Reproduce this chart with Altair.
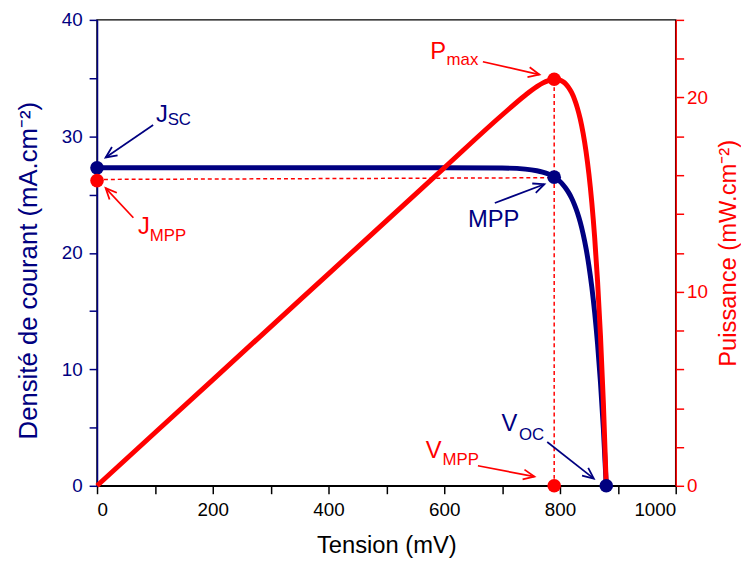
import altair as alt
import pandas as pd

NAVY = "#000080"
RED = "#ff0000"
FONT = "Liberation Sans"

# ---- data ----
tension = [0, 100, 200, 300, 400, 500, 600, 700, 740, 760, 770, 780, 785,
           790, 795, 800, 805, 810, 815, 820, 825, 830, 835, 840, 845, 850,
           855, 860, 865, 870, 875, 880]
densite = [27.3, 27.3, 27.3, 27.3, 27.3, 27.3, 27.3, 27.28, 27.19, 27.05, 26.93, 26.76, 26.64,
           26.50, 26.33, 26.12, 25.86, 25.55, 25.17, 24.71, 24.14, 23.46, 22.63, 21.62, 20.39, 18.89,
           17.07, 14.85, 12.15, 8.87, 4.88, 0.0]
puissance = [0.0, 2.73, 5.46, 8.19, 10.92, 13.65, 16.38, 19.10, 20.12, 20.56, 20.74, 20.87, 20.91,
             20.94, 20.93, 20.90, 20.82, 20.70, 20.51, 20.26, 19.92, 19.47, 18.90, 18.16, 17.23, 16.06,
             14.59, 12.77, 10.51, 7.72, 4.27, 0.0]

# key points
jsc_v, jsc_j = 0, 27.3
mpp_v, mpp_j = 790, 26.5
jmpp_v, jmpp_j = 0, 26.2
pmax_v, pmax_p = 790, 20.94
voc_v = 880

# dashed guides (in current-density units)
guide_v = [0, 790]
guide_v2 = [790, 790]
guide_j = [26.3, 0.0]
guide_j2 = [26.45, 34.86]

# annotation labels (main letter and subscript)
lab_text = ["J", "J", "P", "MPP", "V", "V"]
lab_v = [102, 71, 576, 641, 699, 568]
lab_j = [31.2, 21.65, 36.6, 22.2, 4.7, 2.4]
lab_col = [NAVY, RED, RED, NAVY, NAVY, RED]

sub_text = ["SC", "MPP", "max", "OC", "MPP"]
sub_v = [122, 91, 604, 729, 597]
sub_j = [31.0, 21.0, 36.1, 3.9, 1.8]
sub_col = [NAVY, RED, RED, NAVY, RED]

# arrows: start -> tip
arr_v = [97.0, 62.8, 666.8, 687.4, 778.0, 658.2]
arr_j = [30.98, 23.01, 36.41, 24.28, 3.76, 1.72]
arr_v2 = [14.9, 14.9, 764.4, 773.0, 858.5, 755.8]
arr_j2 = [28.19, 25.56, 35.30, 25.89, 0.62, 0.79]
arr_ang = [145.5, 227.0, 12.8, 339.2, 38.2, 10.9]
arr_col = [NAVY, RED, RED, NAVY, NAVY, RED]

# ---- tables ----
curve = pd.DataFrame({"v": tension, "j": densite, "p": puissance})
guides = pd.DataFrame({"v": guide_v, "v2": guide_v2, "j": guide_j, "j2": guide_j2})
labels = pd.DataFrame({"t": lab_text, "v": lab_v, "j": lab_j, "c": lab_col})
subs = pd.DataFrame({"t": sub_text, "v": sub_v, "j": sub_j, "c": sub_col})
arrows = pd.DataFrame({"v": arr_v, "j": arr_j, "v2": arr_v2, "j2": arr_j2,
                       "a": arr_ang, "c": arr_col})
jdots = pd.DataFrame({"v": [jsc_v, mpp_v, jmpp_v], "j": [jsc_j, mpp_j, jmpp_j],
                      "c": [NAVY, NAVY, RED]})
pdots = pd.DataFrame({"v": [pmax_v, mpp_v, voc_v], "p": [pmax_p, 0.0, 0.0],
                      "c": [RED, RED, NAVY]})

# ---- scales / axes ----
scX = alt.Scale(domain=[0, 1000], nice=False)
axX = alt.Axis(values=list(range(0, 1001, 100)), format="d",
               labelExpr="datum.value % 200 == 0 ? datum.label : ''",
               title="Tension (mV)", tickSize=8, tickWidth=1.5, domainWidth=1.5,
               domainColor="black", tickColor="black", labelColor="black", titleColor="black",
               labelFontSize=19, titleFontSize=24, titleFontWeight="normal",
               labelFont=FONT, titleFont=FONT, labelPadding=7, titlePadding=14,
               labelOverlap=False, grid=False)

scJ = alt.Scale(domain=[0, 40], nice=False)
axJ = alt.Axis(values=list(range(0, 41, 5)),
               labelExpr="datum.value % 10 == 0 ? datum.label : ''",
               title="Densité de courant (mA.cm⁻²)", orient="left", titleY=253,
               tickSize=8, tickWidth=1.5, domainWidth=1.5,
               domainColor=NAVY, tickColor=NAVY, labelColor=NAVY, titleColor=NAVY,
               labelFontSize=19, titleFontSize=26, titleFontWeight="normal",
               labelFont=FONT, titleFont=FONT, labelPadding=7, titlePadding=20,
               labelOverlap=False, grid=False)

scP = alt.Scale(domain=[0, 24], nice=False)
axP = alt.Axis(values=list(range(0, 25, 2)),
               labelExpr="datum.value % 10 == 0 ? datum.label : ''",
               title="Puissance (mW.cm⁻²)", orient="right", titleAngle=270, titleBaseline="top",
               tickSize=8, tickWidth=1.5, domainWidth=1.5,
               domainColor=RED, tickColor=RED, labelColor=RED, titleColor=RED,
               labelFontSize=19, titleFontSize=24, titleFontWeight="normal",
               labelFont=FONT, titleFont=FONT, labelPadding=3, titlePadding=9,
               labelOverlap=False, grid=False)


def X(f="v"):
    return alt.X(f"{f}:Q", scale=scX, axis=axX)


def YJ(f="j"):
    return alt.Y(f"{f}:Q", scale=scJ, axis=axJ)


def YP(f="p"):
    return alt.Y(f"{f}:Q", scale=scP, axis=axP)


col = alt.Color("c:N", scale=None)

# ---- current-density group ----
g_guides = alt.Chart(guides).mark_rule(color=RED, strokeWidth=1.5, strokeDash=[4, 3]).encode(
    x=X(), y=YJ(), x2="v2:Q", y2="j2:Q")
g_jline = alt.Chart(curve).mark_line(color=NAVY, strokeWidth=5, interpolate="monotone").encode(
    x=X(), y=YJ())
g_arr = alt.Chart(arrows).mark_rule(strokeWidth=1.7).encode(
    x=X(), y=YJ(), x2="v2:Q", y2="j2:Q", color=col)
g_head = alt.Chart(arrows).mark_point(
    shape="M -1 -0.45 L 0 0 L -1 0.45", filled=False, strokeWidth=1.8, size=500, opacity=1
).encode(x=X("v2"), y=YJ("j2"), angle=alt.Angle("a:Q", scale=None), stroke=alt.Stroke("c:N", scale=None))
g_lab = alt.Chart(labels).mark_text(align="left", baseline="alphabetic", font=FONT, fontSize=24).encode(
    x=X(), y=YJ(), text="t:N", color=col)
g_sub = alt.Chart(subs).mark_text(align="left", baseline="alphabetic", font=FONT, fontSize=17).encode(
    x=X(), y=YJ(), text="t:N", color=col)
g_jdots = alt.Chart(jdots).mark_circle(size=190, opacity=1).encode(x=X(), y=YJ(), color=col)

left = alt.layer(g_guides, g_jline, g_arr, g_head, g_lab, g_sub, g_jdots)

# ---- power group ----
g_pline = alt.Chart(curve).mark_line(color=RED, strokeWidth=5, interpolate="monotone").encode(
    x=X(), y=YP())
g_pdots = alt.Chart(pdots).mark_circle(size=190, opacity=1).encode(x=X(), y=YP(), color=col)

right = alt.layer(g_pline, g_pdots)

chart = alt.layer(left, right).resolve_scale(y="independent").properties(
    width=585, height=471,
    padding={"left": 90, "top": 9, "right": 66, "bottom": 72},
    autosize=alt.AutoSizeParams(type="none"),
    background="white",
).configure_view(stroke="black", strokeWidth=1.5)

chart.save("out.html", embed_options={"renderer": "svg", "actions": False})
